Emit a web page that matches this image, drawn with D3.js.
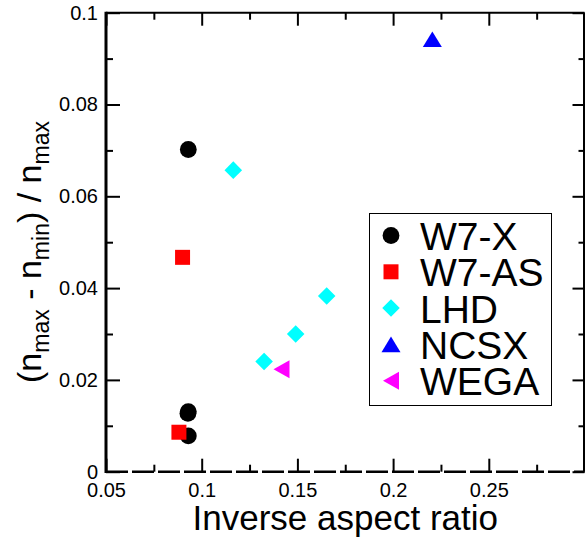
<!DOCTYPE html>
<html>
<head>
<meta charset="utf-8">
<script src="https://cdn.jsdelivr.net/npm/d3@7"></script>
<style>
  html, body { margin: 0; padding: 0; background: #fff; }
  svg { display: block; font-family: "Liberation Sans", Arial, sans-serif; }
</style>
</head>
<body>
<svg id="chart" width="585" height="544"></svg>
<script>
// Device names (legend order)
const devices = ["W7-X", "W7-AS", "LHD", "NCSX", "WEGA"];

// Inverse aspect ratio / relative density variation per device
const w7xX  = [0.0930, 0.0930, 0.0928, 0.0930];
const w7xY  = [0.0702, 0.0131, 0.0127, 0.0078];
const w7asX = [0.0900, 0.0881];
const w7asY = [0.0467, 0.0086];
const lhdX  = [0.1165, 0.1326, 0.1491, 0.1653];
const lhdY  = [0.0657, 0.0240, 0.0300, 0.0383];
const ncsxX = [0.2205];
const ncsxY = [0.0942];
const wegaX = [0.1417];
const wegaY = [0.0223];

// Axis ticks
const xMajor = [0.05, 0.1, 0.15, 0.2, 0.25];
const xMinor = [0.075, 0.125, 0.175, 0.225, 0.275];
const yMajor = [0, 0.02, 0.04, 0.06, 0.08, 0.1];
const yMinor = [0.01, 0.03, 0.05, 0.07, 0.09];

const colors = ["#000000", "#ff0000", "#00ffff", "#0000ff", "#ff00ff"];

const svg = d3.select("#chart");
const L = 106, R = 584.5, T = 12.7, B = 471.7;

const x = d3.scaleLinear().domain([0.05, 0.3]).range([L, R]);
const y = d3.scaleLinear().domain([0, 0.1]).range([B, T]);

const fmt = d => d === 0 ? "0" : String(+d.toFixed(3));

// Marker shapes
const circlePath  = d3.symbol().type(d3.symbolCircle).size(Math.PI * 8.4 * 8.4)();
const squarePath  = d3.symbol().type(d3.symbolSquare).size(15 * 15)();
const diamondPath = d3.symbol().type(d3.symbolSquare).size(12.4 * 12.4)();
const triUpPath   = "M0,-7.8L9.5,7.8L-9.5,7.8Z";
const triLeftPath = "M-8,0L8,-9L8,9Z";

const shapes = [
  { path: circlePath,  rot: 0 },
  { path: squarePath,  rot: 0 },
  { path: diamondPath, rot: 45 },
  { path: triUpPath,   rot: 0 },
  { path: triLeftPath, rot: 0 }
];

const seriesX = [w7xX, w7asX, lhdX, ncsxX, wegaX];
const seriesY = [w7xY, w7asY, lhdY, ncsxY, wegaY];

// Bottom axis: major ticks with labels, minor ticks without
svg.append("g").attr("transform", `translate(0,${B})`)
  .call(d3.axisBottom(x).tickValues(xMajor).tickFormat(fmt).tickSizeInner(-13).tickSizeOuter(0).tickPadding(11));
svg.append("g").attr("transform", `translate(0,${B})`)
  .call(d3.axisBottom(x).tickValues(xMinor).tickFormat("").tickSizeInner(-7).tickSizeOuter(0));

// Top axis
svg.append("g").attr("transform", `translate(0,${T})`)
  .call(d3.axisTop(x).tickValues(xMajor).tickFormat("").tickSizeInner(-13).tickSizeOuter(0));
svg.append("g").attr("transform", `translate(0,${T})`)
  .call(d3.axisTop(x).tickValues(xMinor).tickFormat("").tickSizeInner(-7).tickSizeOuter(0));

// Left axis
svg.append("g").attr("transform", `translate(${L},0)`)
  .call(d3.axisLeft(y).tickValues(yMajor).tickFormat(fmt).tickSizeInner(-14).tickSizeOuter(0).tickPadding(8));
svg.append("g").attr("transform", `translate(${L},0)`)
  .call(d3.axisLeft(y).tickValues(yMinor).tickFormat("").tickSizeInner(-7).tickSizeOuter(0));

// Right axis
svg.append("g").attr("transform", `translate(${R},0)`)
  .call(d3.axisRight(y).tickValues(yMajor).tickFormat("").tickSizeInner(-12).tickSizeOuter(0));
svg.append("g").attr("transform", `translate(${R},0)`)
  .call(d3.axisRight(y).tickValues(yMinor).tickFormat("").tickSizeInner(-6).tickSizeOuter(0));

svg.selectAll(".domain").remove();
svg.selectAll(".tick line").attr("stroke", "#000").attr("stroke-width", 2);
svg.selectAll(".tick text").attr("fill", "#000").attr("font-size", 20)
  .attr("font-family", "Liberation Sans, Arial, sans-serif");

// Frame
const frame = svg.append("g").attr("stroke", "#000").attr("fill", "none");
frame.append("line").attr("x1", L).attr("x2", L).attr("y1", T - 1).attr("y2", B + 1.2).attr("stroke-width", 3);
frame.append("line").attr("x1", L).attr("x2", R).attr("y1", T).attr("y2", T).attr("stroke-width", 2);
frame.append("line").attr("x1", R - 0.5).attr("x2", R - 0.5).attr("y1", T).attr("y2", B).attr("stroke-width", 2);
frame.append("line").attr("x1", L).attr("x2", R).attr("y1", B).attr("y2", B)
  .attr("stroke-width", 2.5).attr("stroke-dasharray", "22,4");

// Data markers
devices.forEach((name, i) => {
  const pts = seriesX[i].map((xv, j) => [xv, seriesY[i][j]]);
  svg.append("g").selectAll("path").data(pts).join("path")
    .attr("d", shapes[i].path)
    .attr("transform", d => `translate(${x(d[0])},${y(d[1])}) rotate(${shapes[i].rot})`)
    .attr("fill", colors[i]);
});

// Legend
const lg = svg.append("g");
lg.append("rect").attr("x", 369.5).attr("y", 213.5).attr("width", 182).attr("height", 192)
  .attr("fill", "#fff").attr("stroke", "#000").attr("stroke-width", 1);
devices.forEach((name, i) => {
  const base = 250 + i * 36.3;
  lg.append("path").attr("d", shapes[i].path)
    .attr("transform", `translate(391,${base - 14.5}) rotate(${shapes[i].rot})`)
    .attr("fill", colors[i]);
  lg.append("text").attr("x", 420).attr("y", base).attr("font-size", 39).attr("fill", "#000")
    .text(name);
});

// Axis titles
svg.append("text").attr("x", (L + R) / 2).attr("y", 530).attr("text-anchor", "middle")
  .attr("font-size", 35).attr("fill", "#000").text("Inverse aspect ratio");

const yl = svg.append("text").attr("transform", `translate(41,252) rotate(-90)`)
  .attr("text-anchor", "middle").attr("font-size", 34).attr("fill", "#000");
yl.append("tspan").text("(n");
yl.append("tspan").attr("font-size", 23).attr("dy", 8).text("max");
yl.append("tspan").attr("dy", -8).text(" - n");
yl.append("tspan").attr("font-size", 23).attr("dy", 8).text("min");
yl.append("tspan").attr("dy", -8).text(") / n");
yl.append("tspan").attr("font-size", 23).attr("dy", 8).text("max");
</script>
</body>
</html>
